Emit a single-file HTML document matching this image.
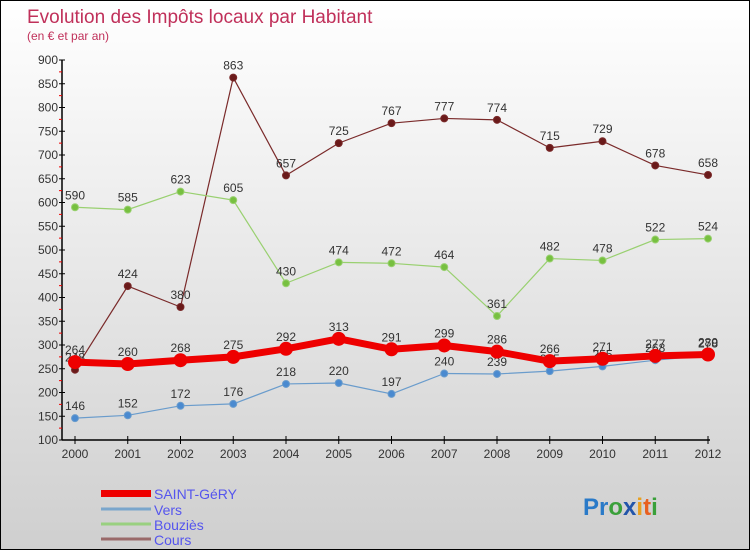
<!DOCTYPE html>
<html><head><meta charset="utf-8"><style>
html,body{margin:0;padding:0}
body{width:750px;height:550px;overflow:hidden;font-family:"Liberation Sans",sans-serif}
#wrap{position:absolute;left:0;top:0;width:748px;height:548px;border:1px solid #000;background:linear-gradient(#ffffff,#cfcfcf)}
</style></head><body>
<div id="wrap">
<svg id="chart" width="748" height="548" xmlns="http://www.w3.org/2000/svg">
<text x="26" y="22" font-size="19" fill="#c0305a">Evolution des Impôts locaux par Habitant</text>
<text x="26" y="39" font-size="12" fill="#c0305a">(en € et par an)</text>
<g id="axes"></g>
<g id="series"></g>
<g id="legend">
<rect x="100" y="489" width="50" height="7" fill="#ee0000"/>
<text x="153" y="498" font-size="14" fill="#5555ee">SAINT-GéRY</text>
<line x1="100" y1="508" x2="150" y2="508" stroke="#7aa6cc" stroke-width="3"/>
<text x="153" y="514" font-size="14" fill="#5555ee">Vers</text>
<line x1="100" y1="523" x2="150" y2="523" stroke="#99d080" stroke-width="3"/>
<text x="153" y="529" font-size="14" fill="#5555ee">Bouziès</text>
<line x1="100" y1="538" x2="150" y2="538" stroke="#9a6a6a" stroke-width="3"/>
<text x="153" y="544" font-size="14" fill="#5555ee">Cours</text>
</g>
<g font-size="24" font-weight="bold">
<text x="582" y="514"><tspan fill="#2a7ac8">Pr</tspan><tspan fill="#3aa03a">o</tspan><tspan fill="#2255aa">x</tspan><tspan fill="#e8a020">i</tspan><tspan fill="#e86020">t</tspan><tspan fill="#3aa03a">i</tspan></text>
</g>
</svg>
</div>
<script>
const years=["2000","2001","2002","2003","2004","2005","2006","2007","2008","2009","2010","2011","2012"];
const yTicks=[100,150,200,250,300,350,400,450,500,550,600,650,700,750,800,850,900];
const saintGery=[264,260,268,275,292,313,291,299,286,266,271,277,280];
const vers=[146,152,172,176,218,220,197,240,239,245,255,268,278];
const bouzies=[590,585,623,605,430,474,472,464,361,482,478,522,524];
const cours=[248,424,380,863,657,725,767,777,774,715,729,678,658];

const NS="http://www.w3.org/2000/svg";
function xS(i){return 74+i*52.75;}
function yS(v){return 439-(v-100)*0.475;}
function mk(tag,attrs,parent){const e=document.createElementNS(NS,tag);for(const k in attrs)e.setAttribute(k,attrs[k]);parent.appendChild(e);return e;}
const axes=document.getElementById('axes');
const ser=document.getElementById('series');
let yl=mk('line',{x1:61,y1:yS(900),x2:61,y2:yS(100),stroke:'#000','stroke-width':1.5},axes);


let xl=mk('line',{x1:61,y1:yS(100),x2:xS(12)+2,y2:yS(100),stroke:'#000','stroke-width':1.5},axes);


yTicks.forEach(v=>{
  mk('line',{x1:58,x2:64,y1:yS(v),y2:yS(v),stroke:'#000'},axes);
  if(v<900)mk('line',{x1:58,x2:61,y1:yS(v+25),y2:yS(v+25),stroke:'#e00'},axes);
  const t=mk('text',{x:57,y:yS(v)+4,'font-size':12,'text-anchor':'end',fill:'#333'},axes);
  t.textContent=v;
  
  
});
years.forEach((y,i)=>{
  mk('line',{x1:xS(i),x2:xS(i),y1:yS(100)-4,y2:yS(100)+4,stroke:'#000'},axes);
  const t=mk('text',{x:xS(i),y:yS(100)+18,'font-size':12,'text-anchor':'middle',fill:'#333'},axes);
  t.textContent=y;
  
  
});
function draw(vals,name,color,dot,w,r){
  const g=mk('g',{},ser);
  
  
  const pl=mk('polyline',{points:vals.map((v,i)=>xS(i)+','+yS(v)).join(' '),fill:'none',stroke:color,'stroke-width':w,'stroke-linejoin':'round'},g);
  
  
  vals.forEach((v,i)=>{
    const c=mk('circle',{cx:xS(i),cy:yS(v),r:r,fill:dot,stroke:color,'stroke-width':1},g);
    
    
    const t=mk('text',{x:xS(i),y:yS(v)-8,'font-size':12,'text-anchor':'middle',fill:'#333'},g);
    t.textContent=v;
    
    
  });
}
draw(cours,'cours','#7a2a2a','#6a1a1a',1.2,3.5);
draw(bouzies,'bouzies','#99d070','#77c040',1.2,3.5);
draw(vers,'vers','#6a9ccc','#4a8ad0',1.2,3.5);
draw(saintGery,'saint-gery','#ee0000','#ee0000',7,6.5);
</script>
</body></html>
